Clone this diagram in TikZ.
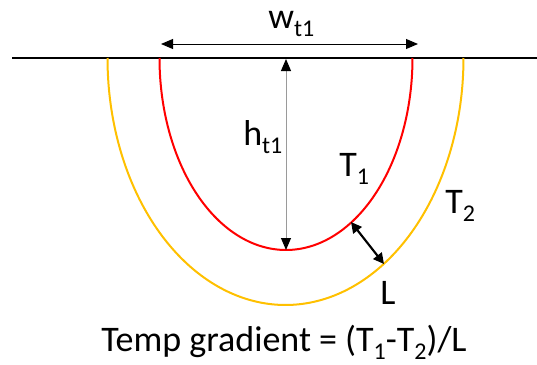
\documentclass[tikz,border=0pt]{standalone}
\usepackage{fontspec}
\setmainfont{Carlito}
\usetikzlibrary{arrows.meta}
\definecolor{pptred}{HTML}{FF0000}
\definecolor{pptgold}{HTML}{FFC000}
\definecolor{dimgray}{HTML}{9A9A9A}
\newcommand\subs[1]{\raisebox{-6pt}{\fontsize{18}{18}\selectfont #1}}
\begin{document}
\begin{tikzpicture}[x=0.75pt,y=-0.75pt,
  lbl/.style={anchor=base west, inner sep=0pt, font=\fontsize{27}{31}\selectfont},
  tipa/.tip={Triangle[length=9pt,width=7.5pt,color=black]},
  dimarrow/.style={line width=0.75pt, tipa-tipa},
  larrow/.style={line width=1.6pt, {Triangle[length=8pt,width=8pt]}-{Triangle[length=8pt,width=8pt]}},
  surface/.style={line width=1.5pt, black},
  isotherm/.style={line width=1.5pt}
]
\useasboundingbox (0,0) rectangle (537,365);
% surface line
\coordinate (s1) at (12,58);
\coordinate (s2) at (537,58);
\draw[surface] (s1) -- (s2);
% isotherms
\draw[isotherm, pptgold] plot[domain=180:360, samples=150] ({285.5+178*cos(\x)},{58-247*sin(\x)});
\draw[isotherm, pptred] plot[domain=180:360, samples=150] ({286+126.5*cos(\x)},{58-192*sin(\x)});
% width arrow
\coordinate (wL) at (161,44);
\coordinate (wR) at (418,44);
\draw[dimarrow] (wL) -- (wR);
% height arrow
\coordinate (hT) at (286,59);
\coordinate (hB) at (286,250);
\draw[dimarrow, dimgray] (hT) -- (hB);
% L arrow
\coordinate (Lr) at (351,222);
\coordinate (Ly) at (384,264);
\draw[larrow] (Lr) -- (Ly);
% labels
\node[lbl] (w) at (268,28) {w\subs{t1}};
\node[lbl] (h) at (243,145) {h\subs{t1}};
\node[lbl] (t1) at (339,176) {T\subs{1}};
\node[lbl] (t2) at (445,213) {T\subs{2}};
\node[lbl] (l) at (380,304) {L};
\node[lbl] (eq) at (101,351) {Temp gradient = (T\subs{1}-T\subs{2})/L};
\end{tikzpicture}
\end{document}
